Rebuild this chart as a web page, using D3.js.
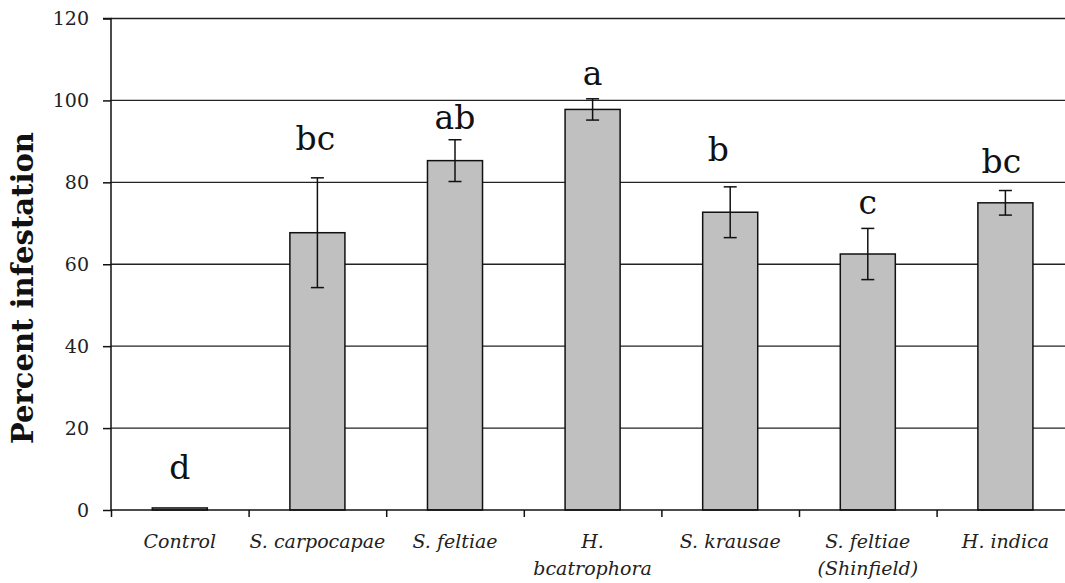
<!DOCTYPE html>
<html>
<head>
<meta charset="utf-8">
<script src="https://cdn.jsdelivr.net/npm/d3@7"></script>
<style>
  html, body { margin: 0; padding: 0; background: #fff; }
  svg { display: block; }
</style>
</head>
<body>
<svg id="chart" width="1065" height="583"></svg>
<script>
// ---- data ----
const categories = [
  ["Control"],
  ["S. carpocapae"],
  ["S. feltiae"],
  ["H.", "bcatrophora"],
  ["S. krausae"],
  ["S. feltiae", "(Shinfield)"],
  ["H. indica"]
];
const meanValues  = [0.5, 67.7, 85.3, 97.8, 72.7, 62.5, 75.0];
const errorValues = [0, 13.4, 5.1, 2.6, 6.2, 6.25, 3.0];
const groupLetters = ["d", "bc", "ab", "a", "b", "c", "bc"];
const letterLevels = [7.6, 87.9, 93.0, 103.7, 85.2, 72.2, 82.3];
const yTicks = [0, 20, 40, 60, 80, 100, 120];
const yLabel = "Percent infestation";

// ---- layout ----
const svg = d3.select("#chart");
const plotLeft = 111, plotBottom = 510, plotTop = 18.5;
const bandW = 137.6;
const plotRight = plotLeft + bandW * categories.length;
const letterNudge = [0, -2, 0, 0, -12, 0, -4]; // small horizontal nudges of annotation letters (px)

const x = d3.scaleBand()
  .domain(d3.range(categories.length))
  .range([plotLeft, plotRight])
  .paddingInner(0.6).paddingOuter(0.3);
const y = d3.scaleLinear().domain([0, 120]).range([plotBottom, plotTop]);

// gridlines
svg.append("g").selectAll("line")
  .data(yTicks.filter(d => d > 0))
  .join("line")
  .attr("x1", plotLeft).attr("x2", plotRight)
  .attr("y1", d => y(d)).attr("y2", d => y(d))
  .attr("stroke", "#222").attr("stroke-width", 1.4);

// bars
svg.append("g").selectAll("rect")
  .data(meanValues)
  .join("rect")
  .attr("x", (d, i) => x(i))
  .attr("width", x.bandwidth())
  .attr("y", d => y(d))
  .attr("height", d => y(0) - y(d))
  .attr("fill", "#c0c0c0")
  .attr("stroke", "#111")
  .attr("stroke-width", 1.5);

// error bars
const eg = svg.append("g").attr("stroke", "#111").attr("stroke-width", 1.5);
meanValues.forEach((m, i) => {
  const e = errorValues[i];
  if (!e) return;
  const cx = x(i) + x.bandwidth() / 2;
  eg.append("line").attr("x1", cx).attr("x2", cx).attr("y1", y(m + e)).attr("y2", y(m - e));
  eg.append("line").attr("x1", cx - 6.5).attr("x2", cx + 6.5).attr("y1", y(m + e)).attr("y2", y(m + e));
  eg.append("line").attr("x1", cx - 6.5).attr("x2", cx + 6.5).attr("y1", y(m - e)).attr("y2", y(m - e));
});

// group letters
svg.append("g").selectAll("text")
  .data(groupLetters)
  .join("text")
  .attr("x", (d, i) => x(i) + x.bandwidth() / 2 + letterNudge[i])
  .attr("y", (d, i) => y(letterLevels[i]))
  .attr("text-anchor", "middle")
  .attr("font-family", "DejaVu Serif")
  .attr("font-size", 33)
  .attr("fill", "#111")
  .text(d => d);

// y axis
const yAxis = d3.axisLeft(y).tickValues(yTicks).tickSize(8).tickPadding(14);
const ya = svg.append("g").attr("transform", `translate(${plotLeft},0)`).call(yAxis);
ya.select(".domain").attr("stroke", "#111").attr("stroke-width", 1.5).attr("d", `M-8,${plotTop}H0V${plotBottom}`);
ya.selectAll(".tick line").attr("stroke", "#111").attr("stroke-width", 1.5);
ya.selectAll(".tick text")
  .attr("font-family", "DejaVu Serif").attr("font-size", 19).attr("fill", "#222");

// x axis
const xb = d3.scaleLinear().domain([0, categories.length]).range([plotLeft, plotRight]);
const xa = svg.append("g").attr("transform", `translate(0,${plotBottom})`)
  .call(d3.axisBottom(xb).tickValues(d3.range(categories.length + 1)).tickSize(7).tickFormat(""));
xa.select(".domain").attr("stroke", "#111").attr("stroke-width", 1.5).attr("d", `M${plotLeft},0H${plotRight}`);
xa.selectAll(".tick line").attr("stroke", "#111").attr("stroke-width", 1.5);

// category labels
const lg = svg.append("g");
categories.forEach((lines, i) => {
  const t = lg.append("text")
    .attr("x", x(i) + x.bandwidth() / 2)
    .attr("y", 548)
    .attr("text-anchor", "middle")
    .attr("font-family", "DejaVu Serif")
    .attr("font-style", "italic")
    .attr("font-size", 19)
    .attr("fill", "#222");
  lines.forEach((ln, j) => {
    t.append("tspan").attr("x", x(i) + x.bandwidth() / 2).attr("dy", j === 0 ? 0 : 27).text(ln);
  });
});

// y label
svg.append("text")
  .attr("transform", "translate(33,288) rotate(-90)")
  .attr("text-anchor", "middle")
  .attr("font-family", "DejaVu Serif")
  .attr("font-weight", "bold")
  .attr("font-size", 29)
  .attr("fill", "#111")
  .text(yLabel);
</script>
</body>
</html>
